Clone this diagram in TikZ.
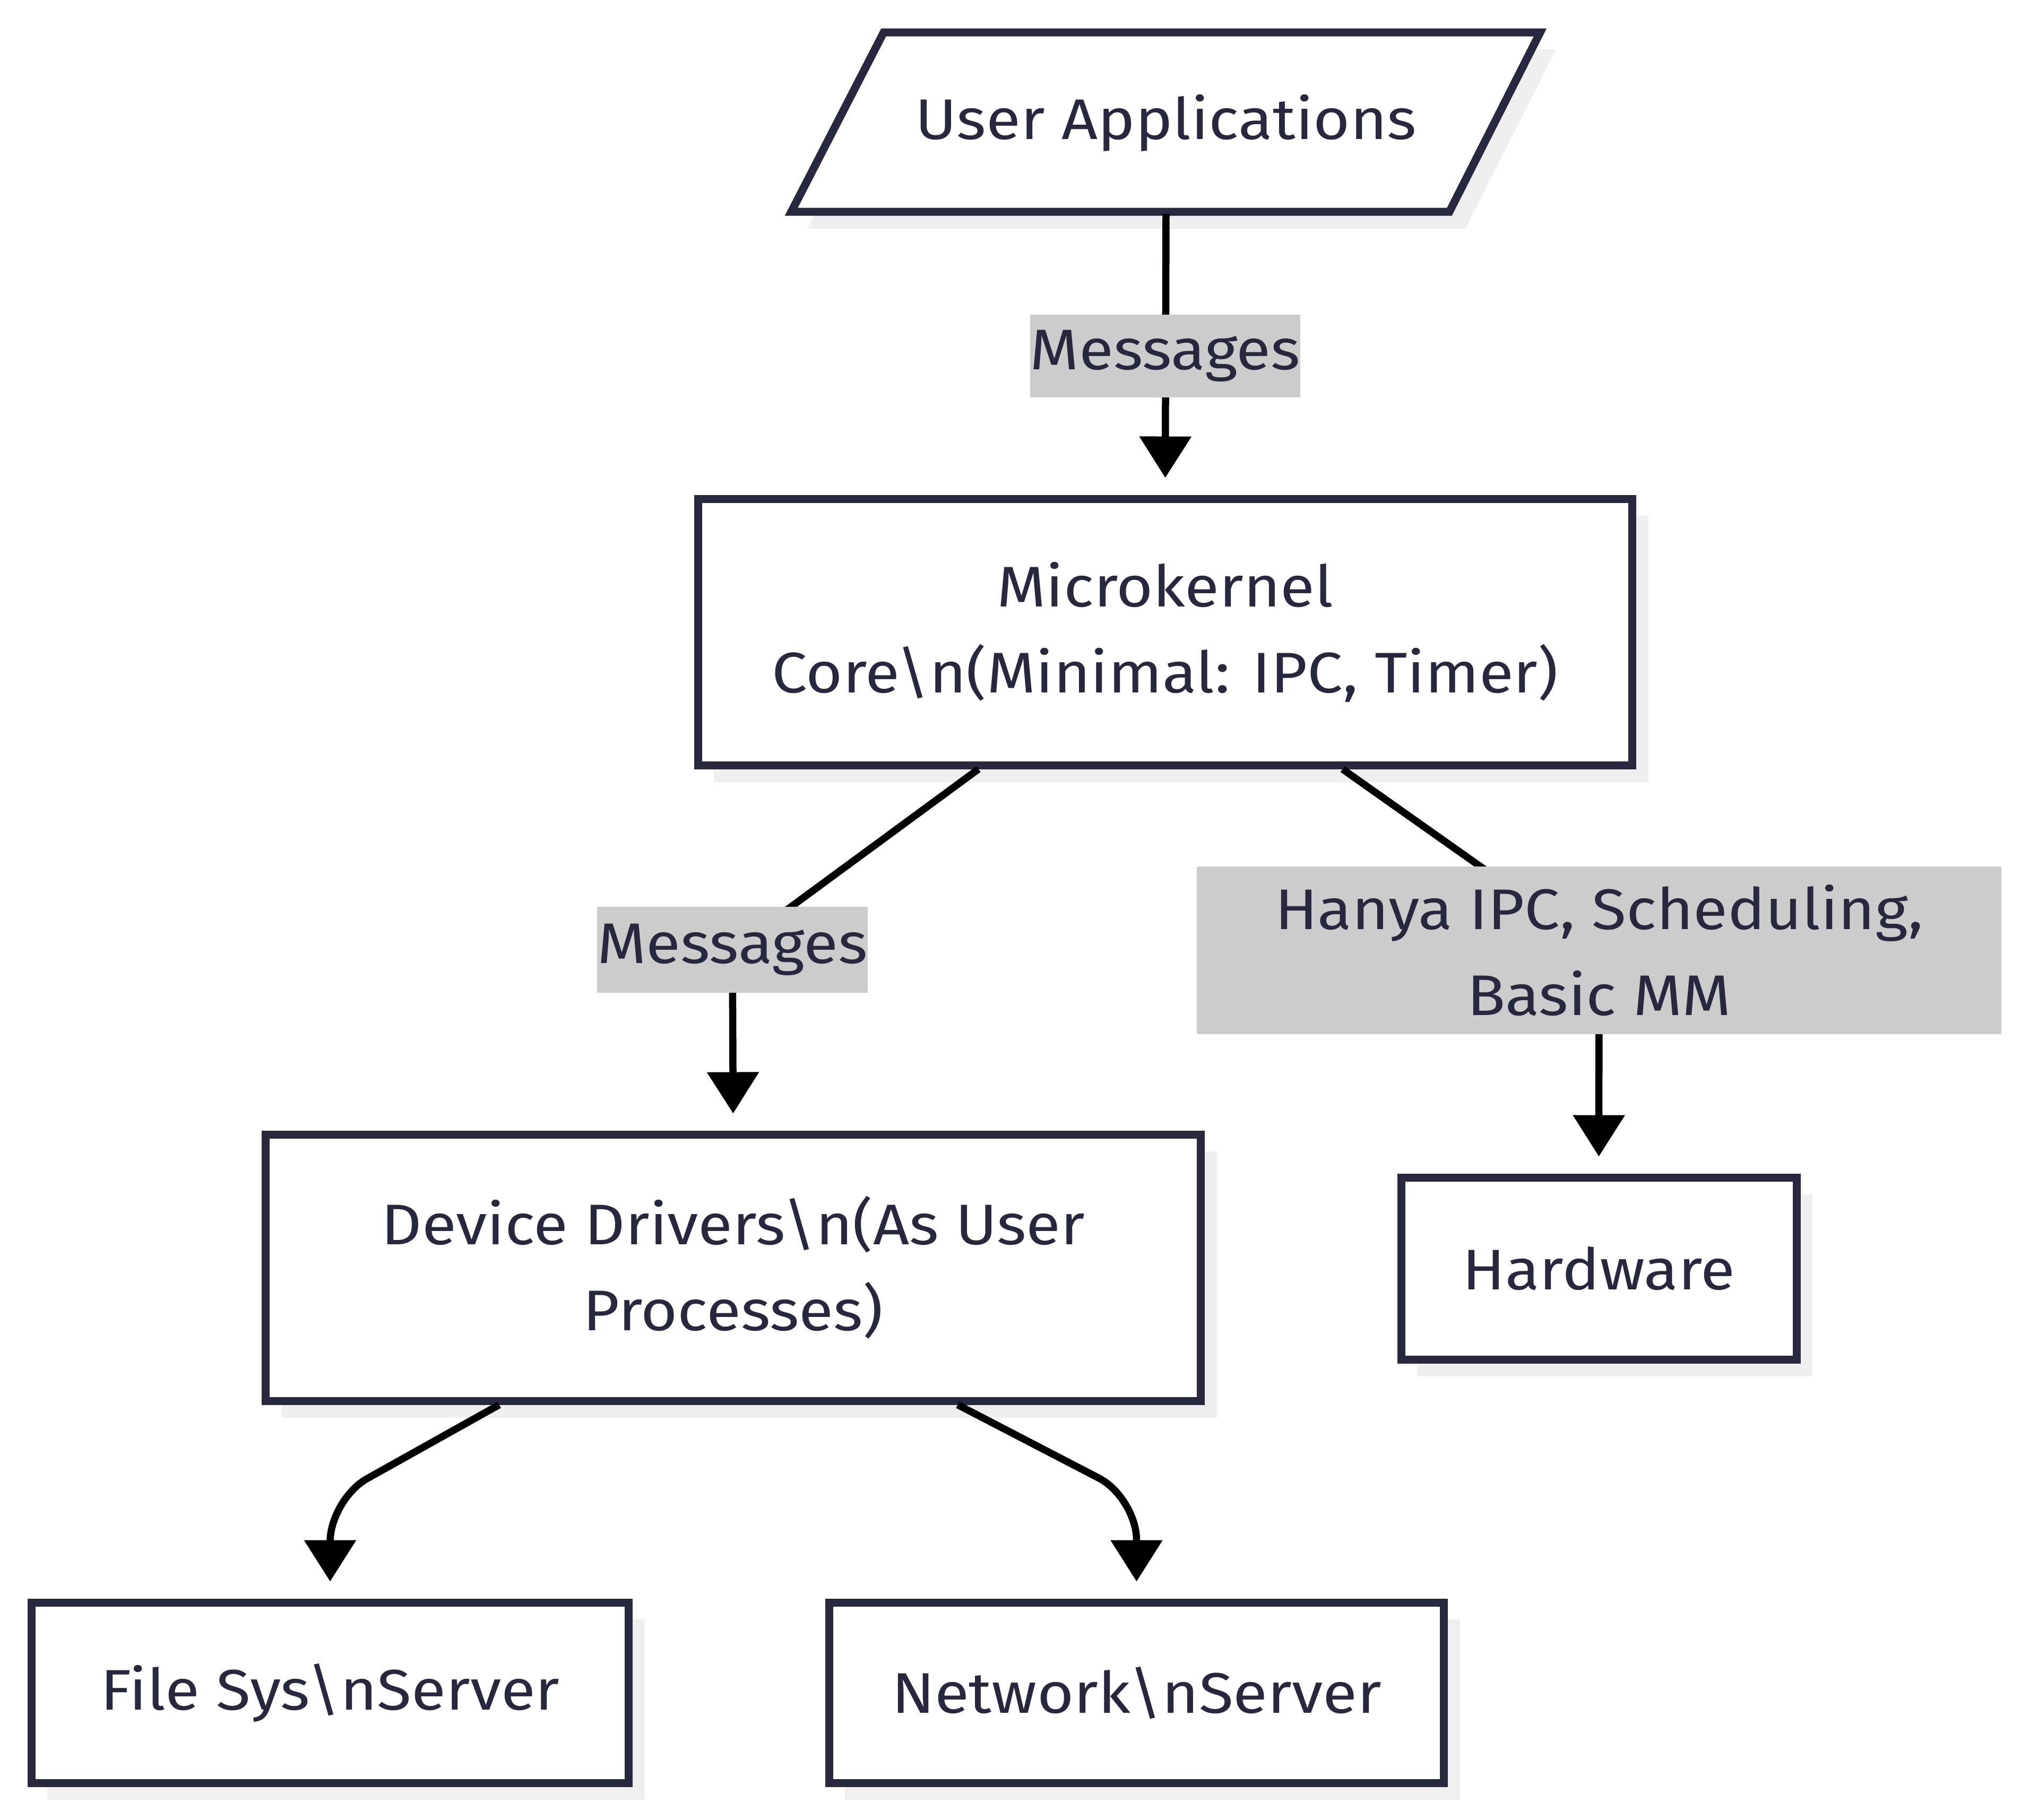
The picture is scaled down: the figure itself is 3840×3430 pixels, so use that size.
\documentclass[tikz,border=0pt]{standalone}
\usepackage{fontspec}
\setmainfont{Fira Sans}[FakeStretch=1.1]
\usetikzlibrary{arrows.meta,calc,shadows}
\definecolor{ink}{RGB}{39,39,61}
\definecolor{shadowgray}{RGB}{239,239,239}
\definecolor{lblbg}{RGB}{204,204,204}
\begin{document}
\begin{tikzpicture}[x=0.1pt,y=-0.1pt,
  txt/.style={text=ink, align=center, inner sep=0pt, font=\fontsize{10.8pt}{16.2pt}\selectfont},
  box/.style={txt, draw=ink, line width=1.5pt, fill=white,
    drop shadow={shadow xshift=3pt, shadow yshift=-3.2pt, fill=shadowgray, opacity=1}},
  lbl/.style={txt, fill=lblbg},
  conn/.style={draw=black, line width=1.35pt, shorten >=3.2pt, -{Triangle[length=7.8pt,width=9.5pt]}},
]
\useasboundingbox (0,0) rectangle (3840,3430);

% User Applications (parallelogram)
\fill[shadowgray] (1695,93) -- (2932,93) -- (2761,431) -- (1521,431) -- cycle;
\draw[ink, line width=1.5pt, fill=white, line join=miter] (1665,61) -- (2902,61) -- (2731,399) -- (1491,399) -- cycle;
\node[txt, minimum width=124pt, minimum height=33.8pt] (ua) at (2197,232) {User Applications};

% Boxes
\node[box, minimum width=176.1pt, minimum height=50.2pt] (mk) at (2195.5,1191) {Microkernel\\Core\textbackslash n(Minimal: IPC, Timer)};
\node[box, minimum width=176.3pt, minimum height=50.2pt] (dd) at (1381.5,2389) {Device Drivers\textbackslash n(As User\\Processes)};
\node[box, minimum width=74.5pt, minimum height=34.3pt] (hw) at (3012.5,2390.5) {Hardware};
\node[box, minimum width=112.6pt, minimum height=34pt] (fs) at (622,3190) {File Sys\textbackslash nServer};
\node[box, minimum width=115.9pt, minimum height=34pt] (ns) at (2141.5,3190) {Network\textbackslash nServer};

% Label positions
\coordinate (l1c) at (2195.5,671);
\coordinate (l2c) at (1380,1790);
\coordinate (l3c) at (3013,1791);

% Connectors
\draw[conn] (ua.south) -- (mk.north);
\draw[conn] ($(mk.south west)+(536,0)$) -- (l2c) -- (dd.north);
\draw[conn] ($(mk.south west)+(1222,0)$) -- (l3c) -- (hw.north);
\draw[conn, rounded corners=8pt] ($(dd.south west)+(448,0)$) -- ($(fs.north)+(0,-187)$) -- (fs.north);
\draw[conn, rounded corners=8pt] ($(dd.south west)+(1312,0)$) -- ($(ns.north)+(0,-190)$) -- (ns.north);

% Edge labels
\node[lbl, minimum width=50.7pt, minimum height=15.6pt] (l1) at (l1c) {\raisebox{-0.5pt}{Messages}};
\node[lbl, minimum width=50.6pt, minimum height=16.2pt] (l2) at (l2c) {\raisebox{-0.5pt}{Messages}};
\node[lbl, minimum width=151.6pt, minimum height=31.6pt] (l3) at (l3c) {Hanya IPC, Scheduling,\\Basic MM};
\end{tikzpicture}
\end{document}
